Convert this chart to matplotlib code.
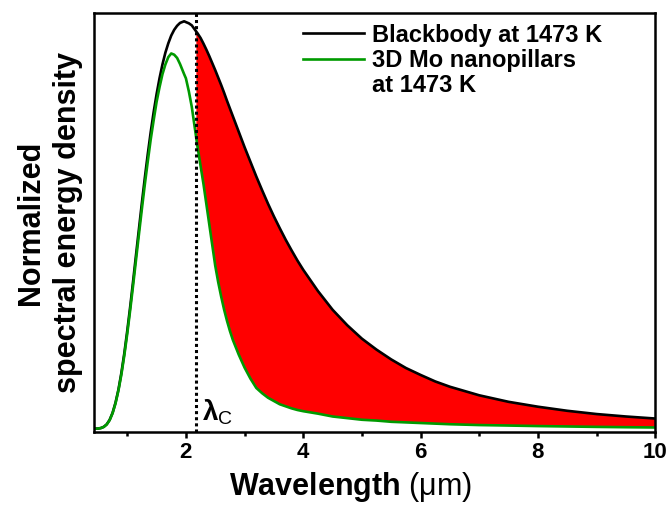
import matplotlib
matplotlib.use("Agg")
import matplotlib.pyplot as plt
from matplotlib.lines import Line2D
from matplotlib.ticker import MultipleLocator
import numpy as np

plt.rcParams['font.family'] = ['Liberation Sans', 'DejaVu Sans']
plt.rcParams['mathtext.fontset'] = 'custom'
plt.rcParams['mathtext.rm'] = 'Liberation Sans'
plt.rcParams['mathtext.it'] = 'Liberation Sans:italic'
plt.rcParams['mathtext.bf'] = 'Liberation Sans:bold'

# wavelength grid (um)
wavelength = [0.43, 0.5, 0.55, 0.6, 0.65, 0.7, 0.75, 0.8, 0.85, 0.9, 0.95,
              1.0, 1.05, 1.1, 1.15, 1.2, 1.25, 1.3, 1.35, 1.4, 1.45, 1.5,
              1.55, 1.6, 1.65, 1.7, 1.75, 1.8, 1.85, 1.9, 1.97, 2.0, 2.05,
              2.1, 2.17, 2.2, 2.25, 2.3, 2.35, 2.4, 2.45, 2.5, 2.55, 2.6,
              2.65, 2.7, 2.75, 2.8, 2.9, 3.0, 3.1, 3.2, 3.3, 3.4, 3.5, 3.6,
              3.7, 3.8, 3.9, 4.0, 4.25, 4.5, 4.75, 5.0, 5.25, 5.5, 5.75,
              6.0, 6.25, 6.5, 7.0, 7.5, 8.0, 8.5, 9.0, 9.5, 10.0]
blackbody = [0.0000, 0.0004, 0.0016, 0.0046, 0.0107, 0.0217, 0.039, 0.064,
             0.096, 0.137, 0.185, 0.240, 0.299, 0.362, 0.427, 0.491, 0.555,
             0.616, 0.674, 0.728, 0.777, 0.821, 0.860, 0.894, 0.923, 0.946,
             0.965, 0.979, 0.989, 0.996, 1.000, 0.998, 0.995, 0.990, 0.976,
             0.970, 0.959, 0.945, 0.930, 0.914, 0.897, 0.880, 0.862, 0.844,
             0.825, 0.805, 0.786, 0.767, 0.729, 0.691, 0.655, 0.619, 0.585,
             0.552, 0.521, 0.492, 0.464, 0.438, 0.413, 0.390, 0.338, 0.292,
             0.254, 0.221, 0.194, 0.170, 0.149, 0.132, 0.116, 0.103, 0.082,
             0.066, 0.054, 0.044, 0.036, 0.030, 0.025]
nanopillars = [0.0000, 0.0004, 0.0016, 0.0044, 0.0104, 0.021, 0.038, 0.062,
               0.094, 0.133, 0.180, 0.233, 0.291, 0.352, 0.415, 0.478, 0.540,
               0.600, 0.656, 0.710, 0.757, 0.802, 0.838, 0.870, 0.894, 0.912,
               0.921, 0.918, 0.910, 0.895, 0.870, 0.860, 0.828, 0.790, 0.720,
               0.690, 0.645, 0.600, 0.550, 0.500, 0.450, 0.400, 0.360, 0.325,
               0.293, 0.265, 0.240, 0.218, 0.182, 0.150, 0.123, 0.100, 0.087,
               0.076, 0.068, 0.060, 0.055, 0.050, 0.046, 0.043, 0.037, 0.030,
               0.026, 0.022, 0.020, 0.017, 0.0155, 0.014, 0.0125, 0.011,
               0.009, 0.0078, 0.0065, 0.0055, 0.0045, 0.0037, 0.003]
lambda_c = 2.17
xticks = [2, 4, 6, 8, 10]
xtick_labels = ['2', '4', '6', '8', '10']

wl = np.array(wavelength)
bb = np.array(blackbody)
mo = np.array(nanopillars)

fig = plt.figure(figsize=(6.7, 5.05), dpi=100)
ax = fig.add_axes([0.140, 0.1446, 0.838, 0.8294])

ax.fill_between(wl, mo, bb, where=wl >= lambda_c, color='#ff0000', lw=0)
ax.plot(wl, bb, color='black', lw=1.9, label='Blackbody at 1473 K')
ax.plot(wl, mo, color='#009a00', lw=1.9, label='3D Mo nanopillars')
ax.axvline(lambda_c, color='black', lw=2.2, ls=(0, (1, 1)))

ax.text(lambda_c + 0.1, 0.003, 'λ$_\\mathrm{C}$', fontsize=20,
        fontweight='bold', ha='left', va='bottom')

ax.set_xlim(0.43, 10)
ax.set_ylim(-0.008, 1.02)
ax.set_xticks(xticks)
ax.set_xticklabels(xtick_labels, fontsize=16, fontweight='bold')
ax.xaxis.set_minor_locator(MultipleLocator(1))
ax.set_yticks([])
ax.tick_params(axis='x', which='major', length=4.5, width=1.8, pad=2.5)
ax.tick_params(axis='x', which='minor', length=3, width=1.8)
for sp in ax.spines.values():
    sp.set_linewidth(1.8)

ax.set_xlabel('Wavelength $(\\mathrm{\\mu m})$', fontsize=22,
              fontweight='bold')
ax.xaxis.label.set_verticalalignment('baseline')
ax.xaxis.set_label_coords(0.458, -0.1505)
ax.set_ylabel('Normalized\nspectral energy density', fontsize=22,
              fontweight='bold', labelpad=8, linespacing=1.3)

handles, labels = ax.get_legend_handles_labels()
handles.append(Line2D([], [], color='none'))
labels.append('at 1473 K')
ax.legend(handles, labels, loc='upper left', bbox_to_anchor=(0.372, 0.975),
          frameon=False, prop={'weight': 'bold', 'size': 17},
          handlelength=2.6, handletextpad=0.35, labelspacing=0.1,
          borderpad=0, borderaxespad=0)

fig.savefig('out.png', dpi=100)
